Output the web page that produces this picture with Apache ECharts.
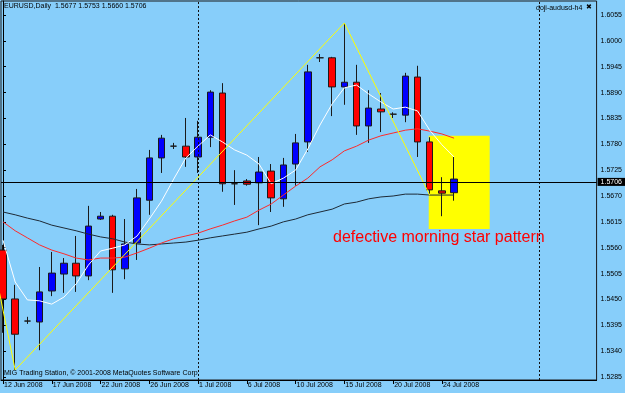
<!DOCTYPE html>
<html><head><meta charset="utf-8">
<script src="https://cdn.jsdelivr.net/npm/echarts@6/dist/echarts.min.js"></script>
<style>html,body{margin:0;padding:0;background:#87cefa}#c{width:625px;height:393px}</style>
</head><body><div id="c"></div>
<script>
// ---- data ----
const dates = ['12 Jun 2008','13 Jun 2008','15 Jun 2008','16 Jun 2008','17 Jun 2008','18 Jun 2008','19 Jun 2008','20 Jun 2008',
  '22 Jun 2008','23 Jun 2008','24 Jun 2008','25 Jun 2008','26 Jun 2008','27 Jun 2008','29 Jun 2008','30 Jun 2008',
  '1 Jul 2008','2 Jul 2008','3 Jul 2008','4 Jul 2008','6 Jul 2008','7 Jul 2008','8 Jul 2008','9 Jul 2008',
  '10 Jul 2008','11 Jul 2008','13 Jul 2008','14 Jul 2008','15 Jul 2008','16 Jul 2008','17 Jul 2008','18 Jul 2008',
  '20 Jul 2008','21 Jul 2008','22 Jul 2008','23 Jul 2008','24 Jul 2008','25 Jul 2008'];
const opens  = [1.5555,1.5451,1.5404,1.5402,1.5468,1.5504,1.5527,1.5500,1.5621,1.5627,1.5515,1.5570,1.5661,1.5751,1.5776,1.5776,
  1.5753,1.5795,1.5889,1.5696,1.5702,1.5698,1.5723,1.5664,1.5738,1.5785,1.5964,1.5964,1.5902,1.5912,1.5819,1.5855,
  1.5844,1.5842,1.5923,1.5785,1.5681,1.5677];
const highs  = [1.5566,1.5481,1.5413,1.5519,1.5551,1.5538,1.5585,1.5649,1.5636,1.5630,1.5621,1.5685,1.5768,1.5800,1.5783,1.5836,
  1.5830,1.5895,1.5910,1.5725,1.5706,1.5753,1.5738,1.5751,1.5802,1.5949,1.5972,1.5966,1.6038,1.5949,1.5895,1.5889,
  1.5848,1.5932,1.5947,1.5795,1.5710,1.5753];
const lows   = [1.5379,1.5300,1.5398,1.5342,1.5457,1.5464,1.5466,1.5491,1.5619,1.5464,1.5493,1.5534,1.5630,1.5719,1.5770,1.5732,
  1.5719,1.5774,1.5679,1.5651,1.5692,1.5608,1.5636,1.5647,1.5692,1.5764,1.5955,1.5840,1.5864,1.5800,1.5783,1.5806,
  1.5836,1.5827,1.5753,1.5672,1.5627,1.5660];
const closes = [1.5451,1.5376,1.5404,1.5466,1.5506,1.5527,1.5500,1.5606,1.5627,1.5513,1.5568,1.5666,1.5751,1.5793,1.5776,1.5753,
  1.5795,1.5891,1.5696,1.5696,1.5695,1.5721,1.5666,1.5736,1.5783,1.5934,1.5964,1.5902,1.5912,1.5819,1.5857,1.5849,
  1.5844,1.5925,1.5785,1.5683,1.5676,1.5706];
const maWhite = [1.5576,1.5487,1.5449,1.5447,1.5440,1.5455,1.5483,1.5523,1.5553,1.5559,1.5566,1.5585,1.5621,1.5659,1.5706,1.5751,
  1.5776,1.5800,1.5785,1.5768,1.5757,1.5738,1.5696,1.5708,1.5725,1.5770,1.5821,1.5866,1.5900,1.5906,1.5887,1.5870,
  1.5855,1.5859,1.5851,1.5810,1.5779,1.5753];
const maRed = [1.5615,1.5596,1.5581,1.5566,1.5555,1.5547,1.5538,1.5534,1.5538,1.5538,1.5540,1.5549,1.5559,1.5570,1.5579,1.5585,
  1.5591,1.5600,1.5608,1.5617,1.5625,1.5640,1.5653,1.5672,1.5691,1.5708,1.5732,1.5747,1.5766,1.5776,1.5789,1.5798,
  1.5804,1.5810,1.5813,1.5808,1.5802,1.5793];
const maBlack = [1.5636,1.5630,1.5623,1.5617,1.5608,1.5602,1.5596,1.5589,1.5583,1.5579,1.5572,1.5568,1.5566,1.5568,1.5570,1.5572,
  1.5576,1.5581,1.5585,1.5589,1.5593,1.5600,1.5606,1.5615,1.5621,1.5630,1.5636,1.5642,1.5653,1.5657,1.5664,1.5668,
  1.5670,1.5674,1.5674,1.5672,1.5672,1.5672];
const zigzagIdx = [-1, 1, 28, 35];
const zigzagVal = [1.5555, 1.5300, 1.6038, 1.5672];
const boxIdx = [34.92, 39.92];
const boxPrice = [1.5600, 1.5798];
const separatorIdx = [16, 44];
const bidPrice = 1.5706;
const xLabelIdx = [0,4,8,12,16,20,24,28,32,36];
const yTicks = [1.5285,1.5340,1.5395,1.5450,1.5505,1.5560,1.5615,1.5670,1.5725,1.5780,1.5835,1.5890,1.5945,1.6000,1.6055];
const headerText = 'EURUSD,Daily  1.5677 1.5753 1.5660 1.5706';
const indicatorText = 'doji-audusd-h4';
const copyrightText = 'MIG Trading Station, \u00a9 2001-2008 MetaQuotes Software Corp.';
const noteText = 'defective morning star pattern';

// ---- chart ----
const FONT = 'Liberation Sans, Arial, sans-serif';
const candles = dates.map((d, i) => [i, opens[i], closes[i], lows[i], highs[i]]);
const toPts = arr => arr.map((v, i) => [i, v]);

const chart = echarts.init(document.getElementById('c'), null, {renderer: 'canvas'});
chart.setOption({
  animation: false,
  backgroundColor: '#87cefa',
  grid: {left: 1, right: 28, top: 1, bottom: 13, show: true, borderColor: '#1a1a1a', borderWidth: 1, backgroundColor: 'transparent'},
  xAxis: {
    type: 'value', min: -0.164, max: 48.689,
    splitLine: {show: false},
    axisLine: {show: true, lineStyle: {color: '#000', width: 1}},
    axisTick: {show: true, customValues: xLabelIdx, length: 4, lineStyle: {color: '#000'}},
    axisLabel: {show: true, customValues: xLabelIdx, formatter: v => dates[Math.round(v)] || '',
      align: 'left', margin: 2, padding: [0, 0, 0, 1], fontSize: 7, color: '#000', fontFamily: FONT}
  },
  yAxis: {
    type: 'value', position: 'right', min: 1.527862, max: 1.608478, scale: true,
    splitLine: {show: false},
    axisLine: {show: true, lineStyle: {color: '#000', width: 1}},
    axisTick: {show: true, customValues: yTicks, length: 3, lineStyle: {color: '#000'}},
    axisLabel: {show: true, customValues: yTicks, formatter: v => v.toFixed(4), margin: 4,
      fontSize: 7, color: '#000', fontFamily: FONT}
  },
  series: [
    {
      type: 'custom', z: 1, silent: true,
      encode: {x: [0, 2], y: [1, 3]},
      data: [[boxIdx[0], boxPrice[1], boxIdx[1], boxPrice[0]]],
      renderItem: (params, api) => {
        const p0 = api.coord([api.value(0), api.value(1)]);
        const p1 = api.coord([api.value(2), api.value(3)]);
        return {type: 'rect', shape: {x: p0[0], y: p0[1], width: p1[0] - p0[0], height: p1[1] - p0[1]}, style: {fill: '#ffff00'}};
      },
      markLine: {
        silent: true, symbol: ['none', 'none'], animation: false,
        label: {show: false},
        lineStyle: {color: '#111', width: 1, type: [2, 2]},
        data: separatorIdx.map(v => ({xAxis: v}))
      }
    },
    {
      type: 'candlestick', z: 2, barWidth: 7,
      encode: {x: 0, y: [1, 2, 3, 4]},
      data: candles,
      itemStyle: {color: '#0000ff', color0: '#ff0000', borderColor: '#1a1a1a', borderColor0: '#1a1a1a', borderWidth: 1},
      markLine: {
        silent: true, symbol: ['none', 'none'], animation: false,
        lineStyle: {color: '#000', width: 1, type: 'solid'},
        label: {show: true, position: 'end', distance: 1, formatter: () => bidPrice.toFixed(4),
          backgroundColor: '#000', color: '#fff', fontSize: 7, fontFamily: FONT, padding: [1, 3, 0, 3]},
        data: [{yAxis: bidPrice}]
      }
    },
    {type: 'line', z: 3, data: toPts(maBlack), symbol: 'none', lineStyle: {color: '#1e2a36', width: 1}},
    {type: 'line', z: 3, data: toPts(maRed), symbol: 'none', lineStyle: {color: '#ff2a2a', width: 1}},
    {type: 'line', z: 3, data: toPts(maWhite), symbol: 'none', lineStyle: {color: '#ffffff', width: 1}},
    {type: 'line', z: 4, data: zigzagIdx.map((x, i) => [x, zigzagVal[i]]), symbol: 'none', lineStyle: {color: '#ffff00', width: 1}}
  ],
  graphic: [
    {type: 'text', left: 4, top: 3, z: 10, style: {text: headerText, fill: '#000', font: '7px ' + FONT}},
    {type: 'text', left: 536, top: 5, z: 10, style: {text: indicatorText, fill: '#000', font: '7px ' + FONT}},
    {type: 'text', left: 586, top: 4, z: 10, style: {text: '\u2716', fill: '#000', font: 'bold 7px DejaVu Sans'}},
    {type: 'text', left: 4, top: 370, z: 10, style: {text: copyrightText, fill: '#000', font: '7px ' + FONT}},
    {type: 'text', left: 333, top: 230, z: 10, style: {text: noteText, fill: '#ff0000', font: '16px ' + FONT}}
  ]
});
</script>
</body></html>
